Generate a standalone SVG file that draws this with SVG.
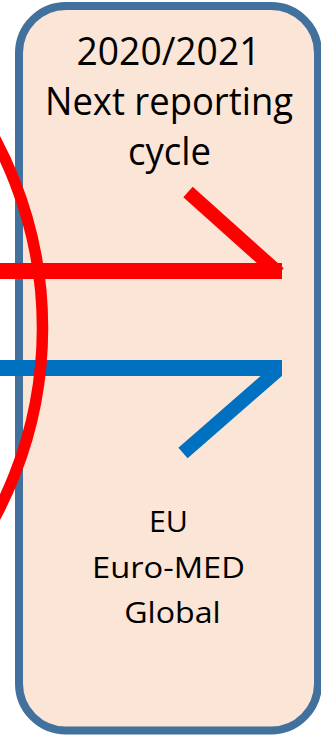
<svg xmlns="http://www.w3.org/2000/svg" width="321" height="736" viewBox="0 0 321 736">
  <style>
    .box { fill: #FBE5D6; stroke: #41719C; stroke-width: 8; }
    .t1 { font-family: "Open Sans", "Noto Sans", "Liberation Sans", sans-serif; font-size: 38px; fill: #000; text-anchor: middle; }
    .t2 { font-family: "Open Sans", "Noto Sans", "Liberation Sans", sans-serif; font-size: 29px; fill: #000; text-anchor: middle; }
    .red { stroke: #FF0000; fill: none; stroke-linecap: butt; }
    .blue { stroke: #0070C0; fill: none; stroke-linecap: butt; }
  </style>
  <rect width="321" height="736" fill="#FFFFFF"/>
  <g id="node-next-cycle">
    <rect class="box" x="19" y="6" width="299" height="724.5" rx="47" ry="47"/>
    <text class="t1" x="168.5" y="65" textLength="184" lengthAdjust="spacingAndGlyphs">2020/2021</text>
    <text class="t1" x="169" y="115" textLength="248" lengthAdjust="spacingAndGlyphs">Next reporting</text>
    <text class="t1" x="169.5" y="165" textLength="83" lengthAdjust="spacingAndGlyphs">cycle</text>
    <text class="t2" x="168.5" y="532" textLength="39" lengthAdjust="spacingAndGlyphs">EU</text>
    <text class="t2" x="168.5" y="578" textLength="153" lengthAdjust="spacingAndGlyphs">Euro-MED</text>
    <text class="t2" x="172.4" y="623" textLength="96.5" lengthAdjust="spacingAndGlyphs">Global</text>
  </g>
  <g id="connectors">
    <line class="red" x1="0" y1="271" x2="282" y2="271" stroke-width="16"/>
    <line class="red" x1="188" y1="192" x2="279" y2="273.5" stroke-width="14"/>
    <line class="blue" x1="0" y1="368" x2="282" y2="368" stroke-width="16"/>
    <line class="blue" x1="183" y1="453" x2="277" y2="371" stroke-width="14"/>
  </g>
  <g id="arc">
    <circle class="red" cx="-357.5" cy="328" r="400" stroke-width="11.5"/>
  </g>
</svg>
